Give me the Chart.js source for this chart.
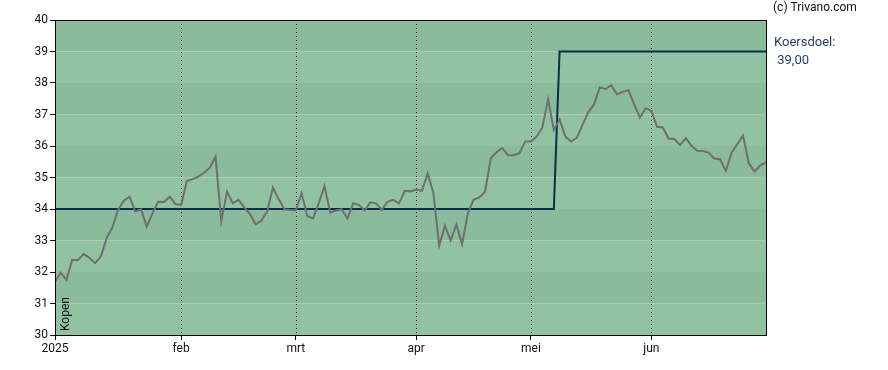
<!DOCTYPE html>
<html>
<head>
<meta charset="utf-8">
<script src="https://cdn.jsdelivr.net/npm/chart.js@4"></script>
<style>
  html, body { margin: 0; padding: 0; background: #fff; }
  #wrap { position: relative; width: 888px; height: 370px; }
</style>
</head>
<body>
<div id="wrap"><canvas id="chart" width="888" height="370"></canvas></div>
<script>
// ── Data ──────────────────────────────────────────────────────────
// x = trading day index (0 = first trading day of 2025)

const monthStarts = [0, 22, 42, 63, 83, 104];
const monthLabels = ['2025', 'feb', 'mrt', 'apr', 'mei', 'jun'];

const koers = [
  31.69, 31.98, 31.75, 32.38, 32.38, 32.57, 32.45, 32.28, 32.49, 33.07,
  33.41, 33.97, 34.26, 34.39, 33.92, 33.99, 33.44, 33.86, 34.23, 34.22,
  34.39, 34.16, 34.13, 34.89, 34.95, 35.03, 35.15, 35.31, 35.66, 33.60,
  34.55, 34.18, 34.29, 34.05, 33.84, 33.51, 33.63, 33.92, 34.68, 34.32,
  33.99, 33.97, 33.96, 34.50, 33.78, 33.70, 34.18, 34.73, 33.89, 33.95,
  33.99, 33.70, 34.18, 34.13, 33.95, 34.21, 34.18, 33.97, 34.23, 34.29,
  34.18, 34.58, 34.56, 34.62, 34.58, 35.13, 34.50, 32.83, 33.47, 33.00,
  33.51, 32.88, 33.86, 34.29, 34.37, 34.55, 35.61, 35.80, 35.93, 35.71,
  35.71, 35.77, 36.14, 36.14, 36.30, 36.59, 37.48, 36.51, 36.85, 36.30,
  36.14, 36.26, 36.67, 37.07, 37.32, 37.86, 37.81, 37.93, 37.64, 37.72,
  37.77, 37.33, 36.90, 37.20, 37.12, 36.61, 36.59, 36.24, 36.22, 36.03,
  36.24, 36.01, 35.85, 35.84, 35.79, 35.60, 35.58, 35.21, 35.79, 36.06,
  36.33, 35.45, 35.19, 35.38, 35.49
];

// koersdoel: 34 until index 87, 39 from index 88
const koersdoelIdx = [0, 87, 88, 124];
const koersdoelVal = [34, 34, 39, 39];

const yMin = 30;
const yMax = 40;
const xMax = 124;

// ── Plugins ───────────────────────────────────────────────────────

const bandsPlugin = {
  id: 'bands',
  beforeDatasetsDraw(chart) {
    const { ctx, chartArea: a, scales: { y } } = chart;
    ctx.save();
    for (let v = yMin; v < yMax; v++) {
      const top = y.getPixelForValue(v + 1);
      const bot = y.getPixelForValue(v);
      ctx.fillStyle = (v % 2) ? '#8abb9b' : '#91c3a3';
      ctx.fillRect(a.left, top, a.right - a.left, bot - top);
    }
    // dotted month lines
    const x = chart.scales.x;
    ctx.strokeStyle = '#000';
    ctx.lineWidth = 1;
    ctx.setLineDash([1, 3]);
    monthStarts.slice(1).forEach(m => {
      const px = Math.round(x.getPixelForValue(m)) + 0.5;
      ctx.beginPath();
      ctx.moveTo(px, a.top);
      ctx.lineTo(px, a.bottom);
      ctx.stroke();
    });
    ctx.restore();
  },
  afterDraw(chart) {
    const { ctx, chartArea: a } = chart;
    ctx.save();
    ctx.strokeStyle = '#000';
    ctx.lineWidth = 1;
    ctx.strokeRect(Math.round(a.left) + 0.5, Math.round(a.top) + 0.5,
      Math.round(a.right - a.left), Math.round(a.bottom - a.top));

    ctx.textBaseline = 'middle';
    ctx.textAlign = 'left';
    ctx.font = '12px Roboto';
    ctx.fillStyle = '#111';
    ctx.fillText('(c) Trivano.com', a.right + 7, 8);
    ctx.font = '13px Roboto';
    ctx.fillStyle = '#1c3a5c';
    ctx.fillText('Koersdoel:', a.right + 8, 43);
    ctx.fillText(' 39,00', a.right + 8, 61);

    ctx.font = '12px Roboto';
    ctx.translate(a.left + 11, a.bottom - 4);
    ctx.rotate(-Math.PI / 2);
    ctx.fillStyle = '#111';
    ctx.fillText('Kopen', 0, 0);
    ctx.restore();
  }
};

// ── Chart ─────────────────────────────────────────────────────────

new Chart(document.getElementById('chart'), {
  type: 'line',
  data: {
    datasets: [
      {
        label: 'Koers',
        data: koers.map((v, i) => ({ x: i, y: v })),
        borderColor: '#6f6f6f',
        borderWidth: 2,
        pointRadius: 0,
        tension: 0
      },
      {
        label: 'Koersdoel',
        data: koersdoelIdx.map((x, i) => ({ x, y: koersdoelVal[i] })),
        borderColor: '#0b2e4e',
        borderWidth: 2,
        pointRadius: 0,
        tension: 0
      }
    ]
  },
  options: {
    responsive: false,
    animation: false,
    layout: { padding: { left: 0, right: 122, top: 20, bottom: 0 } },
    plugins: { legend: { display: false }, tooltip: { enabled: false } },
    scales: {
      x: {
        type: 'linear',
        min: 0,
        max: xMax,
        afterFit(s) { s.height = 35; },
        afterBuildTicks(s) { s.ticks = monthStarts.map(v => ({ value: v })); },
        ticks: {
          autoSkip: false,
          maxRotation: 0,
          padding: 2,
          color: '#111',
          font: { family: 'Roboto', size: 12 },
          callback: v => monthLabels[monthStarts.indexOf(v)]
        },
        grid: { drawOnChartArea: false, drawTicks: true, tickLength: 5, color: '#000' },
        border: { display: true, color: '#000' }
      },
      y: {
        min: yMin,
        max: yMax,
        afterFit(s) { s.width = 55; },
        ticks: {
          stepSize: 1,
          padding: 2,
          color: '#111',
          font: { family: 'Roboto', size: 12 }
        },
        grid: { drawOnChartArea: false, drawTicks: true, tickLength: 5, color: '#000' },
        border: { display: true, color: '#000' }
      }
    }
  },
  plugins: [bandsPlugin]
});
</script>
</body>
</html>
